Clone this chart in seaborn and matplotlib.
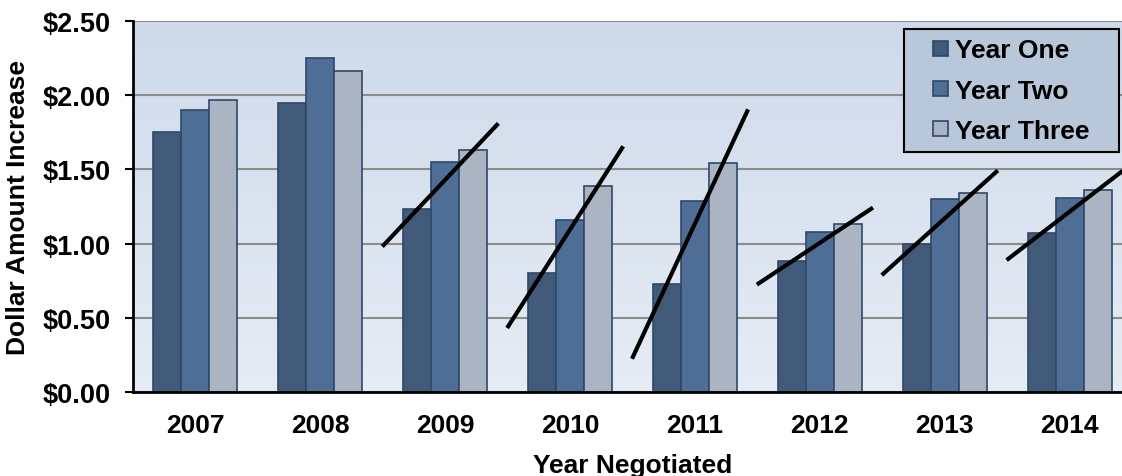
import numpy as np
import pandas as pd
import seaborn as sns
import matplotlib.pyplot as plt
import matplotlib.patches as mpatches
from matplotlib.legend_handler import HandlerPatch
from matplotlib.ticker import FuncFormatter
from matplotlib.colors import LinearSegmentedColormap

# data
years = ["2007", "2008", "2009", "2010", "2011", "2012", "2013", "2014"]
year_one = [1.75, 1.95, 1.23, 0.80, 0.73, 0.88, 1.00, 1.07]
year_two = [1.90, 2.25, 1.55, 1.16, 1.29, 1.08, 1.30, 1.31]
year_three = [1.97, 2.16, 1.63, 1.39, 1.54, 1.13, 1.34, 1.36]
series = ["Year One", "Year Two", "Year Three"]
trend_years = ["2009", "2010", "2011", "2012", "2013", "2014"]

df = pd.DataFrame({
    "Year": years * 3,
    "Value": year_one + year_two + year_three,
    "Series": [s for s in series for _ in years],
})

sns.set_theme(style="white")
plt.rcParams["font.family"] = ["Liberation Sans", "DejaVu Sans"]
plt.rcParams["font.weight"] = "bold"
plt.rcParams["text.color"] = "black"
plt.rcParams["axes.labelcolor"] = "black"

fig = plt.figure(figsize=(11.22, 4.77), dpi=100)
ax = fig.add_axes([133 / 1122, 84 / 477, 999 / 1122, 371 / 477])

# background gradient
bg = LinearSegmentedColormap.from_list("bg", ["#e6ecf5", "#cedaea"])
grad = np.linspace(0, 1, 256).reshape(-1, 1)
ax.imshow(grad, cmap=bg, origin="lower", aspect="auto",
          extent=[-0.5, 7.5, 0, 2.5], zorder=0)

palette = ["#425a7a", "#4f6e96", "#abb4c3"]
edge = "#2e4868"
group_w = 0.672
sns.barplot(data=df, x="Year", y="Value", hue="Series", order=years,
            hue_order=series, palette=palette, width=group_w, gap=0,
            edgecolor=edge, linewidth=1.2, saturation=1, legend=False,
            ax=ax, zorder=3)

# trend lines: through the tops of the first and last bar, extended a bit
bw = group_w / 3
for y in trend_years:
    i = years.index(y)
    k = (year_three[i] - year_one[i]) / (2 * bw)
    b = year_one[i] + k * bw
    xs = np.array([-2.25 * bw, 1.9 * bw])
    ax.plot(i + xs, k * xs + b, color="black", lw=3, zorder=5,
            solid_capstyle="butt", clip_on=False)

ax.set_xlim(-0.5, 7.5)
ax.set_ylim(0, 2.5)
ax.set_yticks(np.arange(0, 2.51, 0.5))
ax.yaxis.set_major_formatter(FuncFormatter(lambda v, p: f"${v:.2f}"))
ax.grid(axis="y", color="#8c8c8c", lw=1.5, zorder=1)
ax.set_axisbelow(True)
for s in ["top", "right"]:
    ax.spines[s].set_visible(False)
for s in ["left", "bottom"]:
    ax.spines[s].set_color("black")
    ax.spines[s].set_linewidth(2)
    ax.spines[s].set_zorder(6)
ax.tick_params(axis="y", left=True, length=6, width=1.5, color="black",
               labelsize=19.5, pad=10, labelcolor="black")
ax.tick_params(axis="x", bottom=False, labelsize=19, pad=9, labelcolor="black")
for t in ax.get_xticklabels() + ax.get_yticklabels():
    t.set_fontweight("bold")

ax.set_xlabel("Year Negotiated", fontsize=19, fontweight="bold", va="top")
ax.set_ylabel("Dollar Amount Increase", fontsize=19, fontweight="bold")
ax.xaxis.set_label_coords(0.5, -0.165)
ax.yaxis.set_label_coords(-0.103, 0.5)


# legend: small square sitting at the right of a wider handle box
def square(legend, orig_handle, xdescent, ydescent, width, height, fontsize):
    sq = 10.8
    return mpatches.Rectangle((width - sq - xdescent, (height - sq) / 2 - ydescent),
                              sq, sq)


handles = [mpatches.Patch(facecolor=c, edgecolor=edge, lw=1.2) for c in palette]
leg = ax.legend(handles, series, loc="upper left",
                bbox_to_anchor=(0.7718, 0.0, 0.2152, 0.9784), mode="expand",
                frameon=True, fancybox=False, fontsize=19,
                handler_map={mpatches.Patch: HandlerPatch(patch_func=square)},
                handlelength=1.32, handleheight=0.7, handletextpad=0.26,
                labelspacing=0.62, borderpad=0.35, borderaxespad=0)
leg.get_frame().set_facecolor("#b8c7da")
leg.get_frame().set_edgecolor("black")
leg.get_frame().set_linewidth(1.5)
leg.get_frame().set_alpha(1)
leg.set_zorder(7)
for t in leg.get_texts():
    t.set_fontweight("bold")

fig.savefig("out.png", dpi=100)
